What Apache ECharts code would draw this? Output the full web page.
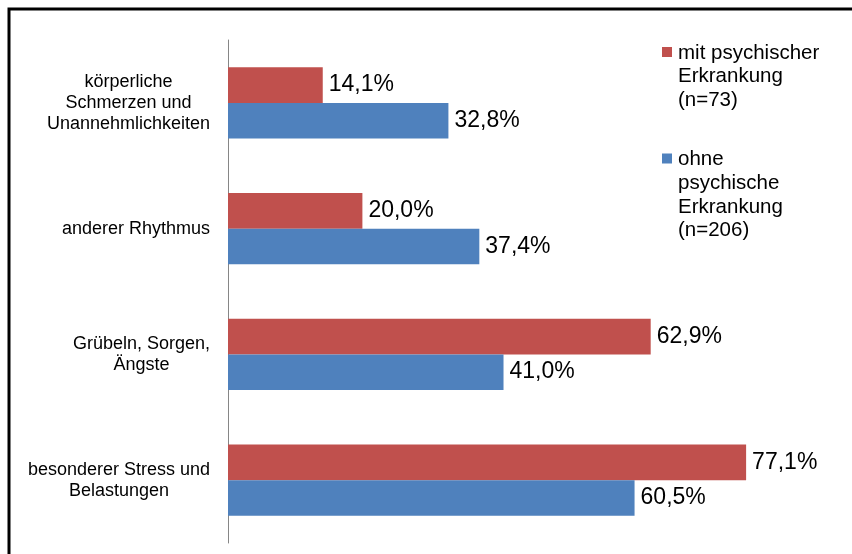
<!DOCTYPE html>
<html>
<head>
<meta charset="utf-8">
<script src="https://cdn.jsdelivr.net/npm/echarts@6/dist/echarts.min.js"></script>
<style>
  html, body { margin: 0; padding: 0; background: #fff; }
  #chart { width: 852px; height: 554px; }
</style>
</head>
<body>
<div id="chart"></div>
<script>
// Kategorien (von oben nach unten)
const categories = [
  'körperliche\nSchmerzen und\nUnannehmlichkeiten',
  'anderer Rhythmus',
  'Grübeln, Sorgen,\nÄngste',
  'besonderer Stress und\nBelastungen'
];
// Gruppen
const seriesNames = [
  'mit psychischer\nErkrankung\n(n=73)',
  'ohne\npsychische\nErkrankung\n(n=206)'
];
const seriesColors = ['#C0504D', '#4F81BD'];
// Anteile in Prozent
const mitValues = [14.1, 20.0, 62.9, 77.1];
const ohneValues = [32.8, 37.4, 41.0, 60.5];

const FONT = '"Liberation Sans", Arial, sans-serif';

const fmtPct = v => v.toFixed(1).replace('.', ',') + '%';

const chart = echarts.init(document.getElementById('chart'));

// Legende als eigene Textblöcke (Symbol an der ersten Zeile)
const legendTops = [41, 147.5];
const legendGraphics = seriesNames.map((name, i) => ({
  type: 'group',
  children: [
    { type: 'rect', shape: { x: 662, y: legendTops[i] + 6, width: 10, height: 10 },
      style: { fill: seriesColors[i] } },
    { type: 'text', x: 678, y: legendTops[i],
      style: { text: name, font: '20.5px ' + FONT, lineHeight: 23.8, fill: '#000',
               verticalAlign: 'top', align: 'left' } }
  ]
}));

const barSeries = [mitValues, ohneValues].map((vals, i) => ({
  type: 'bar',
  name: seriesNames[i],
  data: vals,
  itemStyle: { color: seriesColors[i] },
  barGap: '0%',
  barCategoryGap: '43.5%',
  label: {
    show: true,
    position: 'right',
    distance: 6,
    formatter: p => fmtPct(p.value),
    fontFamily: FONT,
    fontSize: 23,
    color: '#000'
  }
}));

chart.setOption({
  animation: false,
  backgroundColor: '#fff',
  grid: { left: 228, top: 40, bottom: 11, width: 90 * 6.72 },
  xAxis: {
    type: 'value', min: 0, max: 90, show: false
  },
  yAxis: {
    type: 'category',
    data: categories,
    inverse: true,
    axisLine: { show: true, lineStyle: { color: '#868686', width: 1 } },
    axisTick: { show: false },
    axisLabel: {
      margin: 18,
      fontFamily: FONT,
      fontSize: 18,
      lineHeight: 21,
      color: '#000',
      align: 'right',
      formatter: v => v.split('\n').map(l => '{c|' + l + '}').join('\n'),
      rich: { c: { align: 'center', fontFamily: FONT, fontSize: 18, lineHeight: 21, color: '#000' } }
    }
  },
  series: barSeries,
  graphic: [
    { type: 'rect', shape: { x: 9, y: 9, width: 900, height: 600 },
      style: { fill: 'none', stroke: '#000', lineWidth: 3 }, z: 100 },
    ...legendGraphics
  ]
});
</script>
</body>
</html>
